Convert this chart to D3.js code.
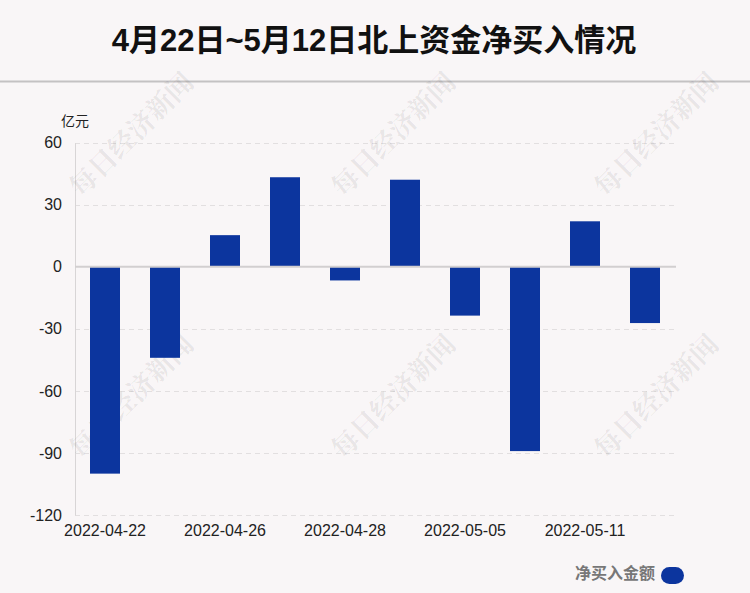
<!DOCTYPE html>
<html><head><meta charset="utf-8">
<script src="https://cdn.jsdelivr.net/npm/d3@7"></script>
<style>body{margin:0;background:#f9f6f7;}svg{display:block;}</style>
</head><body>
<svg id="c" width="750" height="593"></svg>
<script>
const dates = ["2022-04-22","2022-04-25","2022-04-26","2022-04-27","2022-04-28","2022-04-29","2022-05-05","2022-05-09","2022-05-11","2022-05-12"];
const values = [-100.0,-44.0,15.3,43.3,-6.6,42.1,-23.6,-89.1,22.0,-27.2];
const yTicks = [60,30,0,-30,-60,-90,-120];
const xLabels = ["2022-04-22","2022-04-26","2022-04-28","2022-05-05","2022-05-11"];
const title = "4月22日~5月12日北上资金净买入情况";
const unit = "亿元";
const legendName = "净买入金额";
const watermark = "每日经济新闻";

const svg = d3.select("#c");
const W=750,H=593;
svg.append("rect").attr("width",W).attr("height",H).attr("fill","#f9f6f7");

const font = "'Liberation Sans','Noto Sans CJK SC',Arial,sans-serif";
svg.append("text").attr("x",374).attr("y",51).attr("text-anchor","middle")
  .attr("font-family",font).attr("font-weight","bold").attr("font-size",31).attr("fill","#111").text(title);
svg.append("line").attr("x1",0).attr("x2",W).attr("y1",81.5).attr("y2",81.5).attr("stroke","#c4c2c3").attr("stroke-width",2);

const x = d3.scaleBand().domain(dates).range([75,675]).paddingInner(0.5).paddingOuter(0.25);
const y = d3.scaleLinear().domain([-120,60]).range([515,142.7]);

// grid
svg.append("g").selectAll("line").data(yTicks.filter(d=>d!==0)).join("line")
  .attr("x1",75).attr("x2",675).attr("y1",d=>Math.round(y(d))+0.5).attr("y2",d=>Math.round(y(d))+0.5)
  .attr("stroke","#e2dfe0").attr("stroke-dasharray","5,4");

// y axis
const ya = svg.append("g").attr("transform","translate(75,0)")
  .call(d3.axisLeft(y).tickValues(yTicks).tickFormat(d=>String(d)).tickSize(0).tickPadding(13));
ya.select(".domain").attr("stroke","#d8d5d6");
ya.selectAll("text").attr("font-family",font).attr("font-size",16).attr("fill","#222");
svg.append("text").attr("x",61).attr("y",126).attr("font-family",font).attr("font-size",14).attr("fill","#222").text(unit);

// watermarks
const wmPos = [[130,133],[392,133],[655,133],[130,395],[392,395],[655,395]];
svg.append("g").selectAll("text").data(wmPos).join("text")
  .attr("transform",d=>`translate(${d[0]},${d[1]}) rotate(-45)`)
  .attr("text-anchor","middle").attr("dominant-baseline","central")
  .attr("font-family","'Noto Serif CJK SC','Noto Sans CJK SC',serif").attr("font-weight","bold").attr("font-size",27)
  .attr("fill","#000").attr("fill-opacity",0.08).text(watermark);

// bars
svg.append("g").selectAll("rect").data(values).join("rect")
  .attr("x",(d,i)=>x(dates[i])).attr("width",x.bandwidth())
  .attr("y",d=>y(Math.max(0,d))).attr("height",d=>Math.abs(y(d)-y(0)))
  .attr("fill","#0c359e");

// zero line
svg.append("line").attr("x1",75).attr("x2",676).attr("y1",y(0)).attr("y2",y(0)).attr("stroke","#d2cfd0").attr("stroke-width",2);

// x labels
svg.append("g").selectAll("text").data(xLabels).join("text")
  .attr("x",d=>x(d)+x.bandwidth()/2).attr("y",536).attr("text-anchor","middle")
  .attr("font-family",font).attr("font-size",16).attr("fill","#222").text(d=>d);

// legend
svg.append("text").attr("x",655).attr("y",579).attr("text-anchor","end")
  .attr("font-family",font).attr("font-weight","bold").attr("font-size",16).attr("fill","#777").text(legendName);
svg.append("rect").attr("x",661).attr("y",567).attr("width",23).attr("height",17).attr("rx",8.5).attr("fill","#0c359e");
</script>
</body></html>
